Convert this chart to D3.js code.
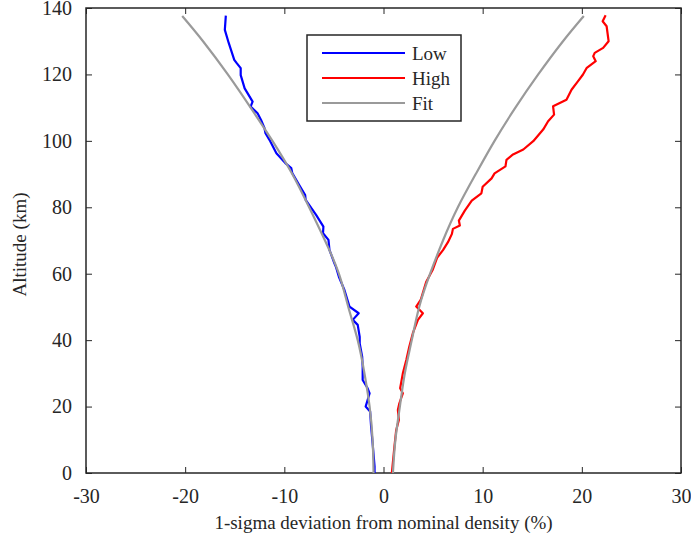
<!DOCTYPE html>
<html>
<head>
<meta charset="utf-8">
<script src="https://cdn.jsdelivr.net/npm/d3@7"></script>
<style>
  body { margin: 0; background: #fff; }
  text { font-family: "Liberation Serif", "Times New Roman", serif; fill: #262626; }
</style>
</head>
<body>
<div id="chart"></div>
<script>
// Low (blue) profile: altitude (km) and deviation (%)
const lowAlt = [0, 2, 9, 14, 18.5, 20, 24, 25.5, 28, 32, 35, 39, 41, 44.6, 46.1, 48.1, 50.1, 55.1, 59.1, 62.1,
  63.1, 67.2, 70.2, 72.2, 74.2, 77.7, 82.2, 83.7, 86.7, 90.3, 91.8, 93.3, 96.3, 100.3, 102.3, 103.8, 106.3,
  108.3, 110.3, 111.8, 113.3, 115.8, 119.8, 121.9, 123.4, 124.4, 129.4, 133.4, 137.7];
const lowDev = [-0.9, -0.9, -1.1, -1.25, -1.35, -1.8, -1.4, -1.6, -2.1, -2.1, -2.15, -2.4, -2.4, -2.6, -3.1, -2.5, -3.43, -3.94, -4.5, -4.8,
  -4.95, -5.45, -5.55, -6.1, -6.06, -6.8, -7.85, -7.9, -8.5, -9.2, -9.3, -9.9, -10.8, -11.5, -11.9, -12.0, -12.35,
  -12.7, -13.4, -13.2, -13.5, -14.0, -14.4, -14.4, -14.8, -15.05, -15.6, -16.0, -15.9];

// High (red) profile
const highAlt = [0, 7.9, 12.9, 16, 19, 21, 24, 25.5, 30, 34, 38, 42.1, 46.1, 48.1, 50.1, 52.1, 57.5, 61.1, 64.8,
  67.1, 69.5, 72, 73.5, 74.5, 76, 79, 82, 84.2, 86.2, 88.7, 90.2, 92.3, 94.3, 95.9, 97.4, 99.9, 103.4, 105.9,
  107.9, 110.4, 112.4, 115.4, 117.9, 119.9, 122, 124, 125.5, 126.5, 128, 130, 134.5, 136, 137.8];
const highDev = [0.84, 1.1, 1.28, 1.55, 1.45, 1.6, 1.95, 1.68, 1.95, 2.3, 2.6, 2.96, 3.47, 3.97, 3.3, 3.75, 4.3, 4.95, 5.4,
  6.0, 6.5, 6.9, 7.0, 7.7, 7.6, 8.2, 8.9, 9.87, 10.0, 10.9, 11.2, 12.3, 12.4, 13.06, 14.1, 15.1, 16.1, 16.6,
  17.2, 17.1, 18.45, 18.96, 19.6, 20.1, 20.5, 21.4, 21.15, 21.3, 22.15, 22.7, 22.5, 22.1, 22.4];

// Fit (gray) curves, one on each side
const fitAlt = [0, 10, 20, 30, 40, 50, 60, 70, 80, 90, 100, 110, 120, 130, 137.6];
const fitLowDev = [-1.0, -1.1, -1.4, -1.92, -2.6, -3.55, -4.5, -5.9, -7.5, -9.2, -11.2, -13.4, -15.7, -18.2, -20.3];
const fitHighDev = [0.95, 1.2, 1.65, 2.15, 2.85, 3.6, 4.7, 6.0, 7.5, 9.3, 11.2, 13.3, 15.6, 18.1, 20.2];

const xTicks = [-30, -20, -10, 0, 10, 20, 30];
const yTicks = [0, 20, 40, 60, 80, 100, 120, 140];

const legendNames = ["Low", "High", "Fit"];
const legendColors = ["#0000ff", "#ff0000", "#9a9a9a"];

const W = 691, H = 546;
const margin = { top: 8, right: 10, bottom: 73, left: 86 };
const width = W - margin.left - margin.right;
const height = H - margin.top - margin.bottom;
const serif = "'Liberation Serif', 'Times New Roman', serif";

const svg = d3.select("#chart").append("svg")
  .attr("width", W)
  .attr("height", H);

const g = svg.append("g")
  .attr("transform", `translate(${margin.left},${margin.top})`);

const x = d3.scaleLinear().domain([-30, 30]).range([0, width]);
const y = d3.scaleLinear().domain([0, 140]).range([height, 0]);

// axes: ticks point inward, box on all four sides
const axisColor = "#262626";
function styleAxis(sel) {
  sel.attr("font-family", serif).attr("font-size", 20);
  sel.select(".domain").remove();
  sel.selectAll(".tick line").attr("stroke", axisColor).attr("stroke-width", 1);
  sel.selectAll(".tick text").attr("fill", axisColor);
}

g.append("g")
  .attr("transform", `translate(0,${height})`)
  .call(d3.axisBottom(x).tickValues(xTicks).tickSizeInner(-6).tickSizeOuter(0).tickPadding(16).tickFormat(d => String(d)))
  .call(styleAxis);
g.append("g")
  .call(d3.axisTop(x).tickValues(xTicks).tickSizeInner(-6).tickSizeOuter(0).tickFormat(""))
  .call(styleAxis);
g.append("g")
  .call(d3.axisLeft(y).tickValues(yTicks).tickSizeInner(-6).tickSizeOuter(0).tickPadding(14).tickFormat(d => String(d)))
  .call(styleAxis);
g.append("g")
  .attr("transform", `translate(${width},0)`)
  .call(d3.axisRight(y).tickValues(yTicks).tickSizeInner(-6).tickSizeOuter(0).tickFormat(""))
  .call(styleAxis);

g.append("rect")
  .attr("width", width)
  .attr("height", height)
  .attr("fill", "none")
  .attr("stroke", axisColor)
  .attr("stroke-width", 1.5);

// lines
const line = d3.line()
  .x(d => x(d[1]))
  .y(d => y(d[0]));

const series = [
  { pts: d3.zip(lowAlt, lowDev), color: legendColors[0], curve: d3.curveLinear },
  { pts: d3.zip(highAlt, highDev), color: legendColors[1], curve: d3.curveLinear },
  { pts: d3.zip(fitAlt, fitLowDev), color: legendColors[2], curve: d3.curveNatural },
  { pts: d3.zip(fitAlt, fitHighDev), color: legendColors[2], curve: d3.curveNatural }
];

g.append("g").selectAll("path")
  .data(series)
  .join("path")
  .attr("d", d => line.curve(d.curve)(d.pts))
  .attr("fill", "none")
  .attr("stroke", d => d.color)
  .attr("stroke-width", 2.2)
  .attr("stroke-linejoin", "round");

// legend
const legend = svg.append("g").attr("transform", "translate(307,35)");
legend.append("rect")
  .attr("width", 154)
  .attr("height", 86)
  .attr("fill", "#fff")
  .attr("stroke", axisColor)
  .attr("stroke-width", 1.5);

const items = legend.selectAll("g.item")
  .data(legendNames)
  .join("g")
  .attr("class", "item")
  .attr("transform", (d, i) => `translate(0,${18 + i * 25})`);
items.append("line")
  .attr("x1", 15).attr("x2", 98)
  .attr("stroke", (d, i) => legendColors[i])
  .attr("stroke-width", 2.2);
items.append("text")
  .attr("x", 105)
  .attr("dy", "0.35em")
  .style("font-size", "19px")
  .attr("fill", "#000")
  .text(d => d);

// axis titles
svg.append("text")
  .attr("x", margin.left + x(0))
  .attr("y", 529)
  .attr("text-anchor", "middle")
  .style("font-size", "19px")
  .text("1-sigma deviation from nominal density (%)");

svg.append("text")
  .attr("transform", `translate(26,${margin.top + height / 2 + 4}) rotate(-90)`)
  .attr("text-anchor", "middle")
  .style("font-size", "19px")
  .text("Altitude (km)");
</script>
</body>
</html>
